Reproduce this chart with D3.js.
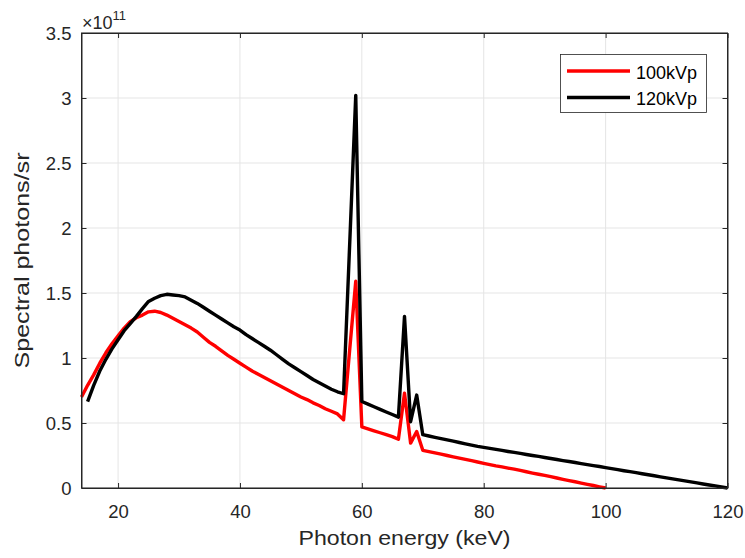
<!DOCTYPE html>
<html><head><meta charset="utf-8">
<script src="https://cdn.jsdelivr.net/npm/d3@7"></script>
<style>body{margin:0;background:#fff}svg{display:block;font-family:"Liberation Sans",Arial,Helvetica,sans-serif}</style>
</head><body><svg id="c" width="745" height="558"></svg>
<script>
// Data (values in units of 1e11 photons/sr)
const energy100 = [14,15,16,17,18,19,20,21,22,23,24,25,26,27,28,29,30,31,32,33,34,35,36,37,38,39,40,41,42,43,44,45,46,47,48,49,50,51,52,53,54,55,56,57,58,59,60,61,62,63,64,65,66,67,68,69,70,71,72,73,74,75,76,77,78,79,80,81,82,83,84,85,86,87,88,89,90,91,92,93,94,95,96,97,98,99,100];
const spec100 = [0.70,0.79,0.87,0.96,1.04,1.11,1.17,1.23,1.28,1.31,1.33,1.355,1.36,1.35,1.33,1.305,1.28,1.255,1.23,1.20,1.16,1.12,1.09,1.055,1.02,0.99,0.96,0.93,0.90,0.875,0.85,0.825,0.80,0.775,0.75,0.725,0.70,0.68,0.655,0.635,0.61,0.59,0.57,0.525,1.06,1.59,0.47,0.455,0.44,0.425,0.41,0.395,0.375,0.73,0.345,0.435,0.29,0.28,0.27,0.26,0.25,0.24,0.23,0.22,0.21,0.20,0.19,0.18,0.17,0.162,0.153,0.145,0.135,0.125,0.115,0.106,0.097,0.087,0.077,0.067,0.057,0.048,0.038,0.028,0.019,0.009,0];
const energy120 = [15,16,17,18,19,20,21,22,23,24,25,26,27,28,29,30,31,32,33,34,35,36,37,38,39,40,41,42,43,44,45,46,47,48,49,50,51,52,53,54,55,56,57,58,59,60,61,62,63,64,65,66,67,68,69,70,71,72,73,74,75,76,77,78,79,80,81,82,83,84,85,86,87,88,89,90,91,92,93,94,95,96,97,98,99,100,101,102,103,104,105,106,107,108,109,110,111,112,113,114,115,116,117,118,119,120];
const spec120 = [0.665,0.79,0.90,0.99,1.07,1.14,1.21,1.265,1.32,1.38,1.435,1.46,1.48,1.49,1.485,1.48,1.47,1.445,1.42,1.39,1.36,1.33,1.30,1.27,1.24,1.215,1.18,1.15,1.12,1.09,1.06,1.025,0.99,0.955,0.925,0.895,0.865,0.835,0.81,0.785,0.76,0.74,0.725,1.87,3.02,0.665,0.645,0.625,0.605,0.585,0.565,0.545,1.32,0.51,0.715,0.41,0.40,0.39,0.38,0.37,0.36,0.35,0.34,0.33,0.32,0.313,0.305,0.297,0.289,0.281,0.274,0.266,0.258,0.25,0.243,0.235,0.227,0.219,0.211,0.204,0.196,0.188,0.18,0.172,0.165,0.157,0.149,0.141,0.133,0.126,0.118,0.11,0.102,0.094,0.086,0.078,0.07,0.062,0.055,0.047,0.039,0.031,0.023,0.016,0.008,0];
const xTicks = [20,40,60,80,100,120];
const yTicks = [0,0.5,1,1.5,2,2.5,3,3.5];
const yTickLabels = ["0","0.5","1","1.5","2","2.5","3","3.5"];
const seriesNames = ["100kVp","120kVp"];
const seriesColors = ["#ff0000","#000000"];

const svg = d3.select("#c");
const L=81.5, R=727.5, T=33, B=488;
const x = d3.scaleLinear().domain([14,120]).range([L,R]);
const y = d3.scaleLinear().domain([0,3.5]).range([B,T]);
const axisCol = "#262626";

// grid
const g = svg.append("g");
g.selectAll(".gx").data(xTicks).join("line")
  .attr("x1",d=>x(d)).attr("x2",d=>x(d)).attr("y1",T).attr("y2",B)
  .attr("stroke","#e5e5e5").attr("stroke-width",1);
g.selectAll(".gy").data(yTicks).join("line")
  .attr("x1",L).attr("x2",R).attr("y1",d=>y(d)).attr("y2",d=>y(d))
  .attr("stroke","#e5e5e5").attr("stroke-width",1);

// lines
const line = d3.line().x(d=>x(d[0])).y(d=>y(d[1]));
const series = [energy100.map((e,i)=>[e,spec100[i]]), energy120.map((e,i)=>[e,spec120[i]])];
series.forEach((s,i)=>{
  svg.append("path").datum(s).attr("d",line).attr("fill","none")
    .attr("stroke",seriesColors[i]).attr("stroke-width",3.4).attr("stroke-linejoin","round");
});

// axes
const xb = svg.append("g").attr("transform",`translate(0,${B})`)
  .call(d3.axisBottom(x).tickValues(xTicks).tickSizeInner(-5).tickSizeOuter(0).tickPadding(17));
const xt = svg.append("g").attr("transform",`translate(0,${T})`)
  .call(d3.axisTop(x).tickValues(xTicks).tickSizeInner(-5).tickSizeOuter(0).tickFormat(""));
const yl = svg.append("g").attr("transform",`translate(${L},0)`)
  .call(d3.axisLeft(y).tickValues(yTicks).tickSizeInner(-5).tickSizeOuter(0).tickPadding(10).tickFormat((d,i)=>yTickLabels[i]));
const yr = svg.append("g").attr("transform",`translate(${R},0)`)
  .call(d3.axisRight(y).tickValues(yTicks).tickSizeInner(-5).tickSizeOuter(0).tickFormat(""));
[xb,xt,yl,yr].forEach(a=>{
  a.selectAll("path").attr("stroke",axisCol).attr("stroke-width",1);
  a.selectAll("line").attr("stroke",axisCol).attr("stroke-width",1);
  a.selectAll("text").attr("fill",axisCol).style("font-size","18.5px").style("font-family","'Liberation Sans',Arial,sans-serif");
});
yl.selectAll("text").attr("dy","0.36em");
svg.append("rect").attr("x",L).attr("y",T).attr("width",R-L).attr("height",B-T)
  .attr("fill","none").attr("stroke",axisCol).attr("stroke-width",1);

// exponent
const ex = svg.append("text").attr("x",82).attr("y",28.5).attr("fill",axisCol)
  .style("font-size","18px");
ex.append("tspan").text("×10");
ex.append("tspan").attr("dy",-9).style("font-size","13px").text("11");

// axis labels
svg.append("text").attr("x",(L+R)/2).attr("y",545).attr("text-anchor","middle")
  .attr("textLength",212).attr("lengthAdjust","spacingAndGlyphs")
  .attr("fill",axisCol).style("font-size","19.5px").text("Photon energy (keV)");
svg.append("text").attr("transform",`translate(29,${(T+B)/2}) rotate(-90)`).attr("text-anchor","middle")
  .attr("textLength",216).attr("lengthAdjust","spacingAndGlyphs")
  .attr("fill",axisCol).style("font-size","19.5px").text("Spectral photons/sr");

// legend
const lg = svg.append("g");
lg.append("rect").attr("x",560.5).attr("y",54.5).attr("width",146).attr("height",58)
  .attr("fill","#fff").attr("stroke",axisCol).attr("stroke-width",0.8);
seriesNames.forEach((n,i)=>{
  const yy = 71 + i*26.5;
  lg.append("line").attr("x1",567).attr("x2",630).attr("y1",yy).attr("y2",yy)
    .attr("stroke",seriesColors[i]).attr("stroke-width",3.4);
  lg.append("text").attr("x",636).attr("y",yy+7.5).attr("fill","#000")
    .style("font-size","18px").text(n);
});
</script></body></html>
